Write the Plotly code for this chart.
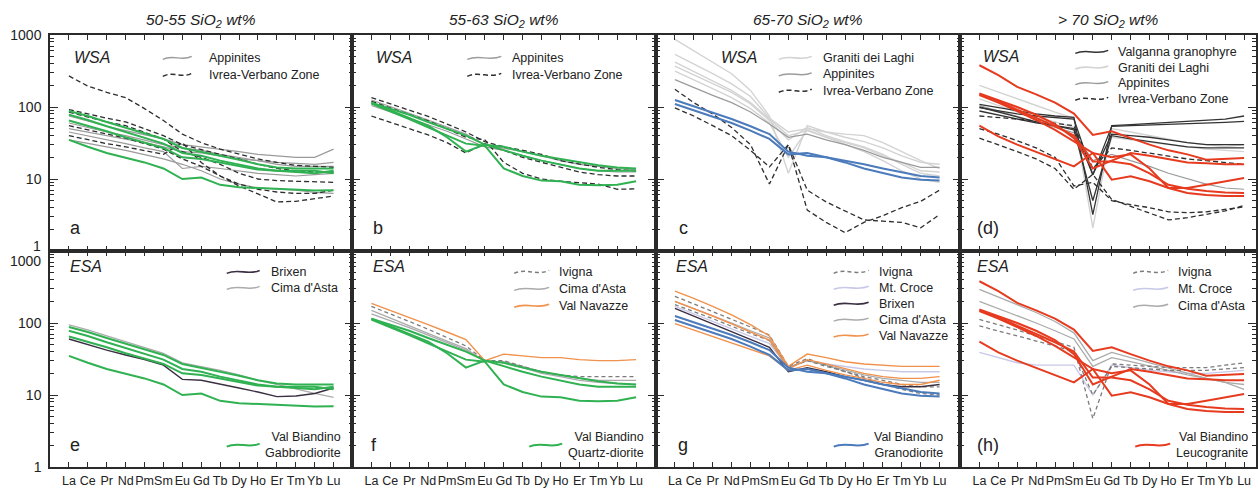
import plotly.graph_objects as go

# ---------------- data ----------------
ree = ["La", "Ce", "Pr", "Nd", "Pm", "Sm", "Eu", "Gd", "Tb", "Dy", "Ho", "Er", "Tm", "Yb", "Lu"]
col_titles = ["50-55 SiO<sub>2</sub> wt%", "55-63 SiO<sub>2</sub> wt%",
              "65-70 SiO<sub>2</sub> wt%", "> 70 SiO<sub>2</sub> wt%"]
panel_letters = ["a", "b", "c", "(d)", "e", "f", "g", "(h)"]

# Val Biandino samples (shown in both rows of each column)
vb_gabbrodiorite = [
    [35, 28, 23, 20, 17, 14, 10, 10.5, 8.3, 7.7, 7.5, 7.4, 7.1, 6.9, 7.0],
    [88, 75, 62, 52, 43, 36, 27, 24, 21, 18.5, 16, 14.5, 14, 14, 14],
    [78, 66, 54, 45, 37, 31, 23, 21, 18, 16, 14, 13, 12.5, 12, 13],
    [65, 55, 46, 38, 32, 27, 20, 19, 17, 15, 13.5, 13, 13, 13, 12],
]
vb_quartzdiorite = [
    [115, 95, 78, 62, 50, 40, 30, 28, 24, 21, 19, 17, 15.5, 14.5, 14],
    [112, 88, 68, 52, 40, 31, 29, 14, 11, 9.5, 9.3, 8.3, 8.2, 8.3, 9.3],
    [115, 90, 72, 55, 38, 24, 30, 25, 21, 18, 16, 14, 13, 13, 13],
]
vb_granodiorite = [
    [125, 102, 84, 68, 54, 42, 24, 21, 20, 18, 16, 14, 12.5, 11, 10.5],
    [110, 90, 74, 60, 47, 36, 22, 23, 20, 17, 14, 12, 10.5, 9.8, 9.5],
]
vb_leucogranite = [
    [380, 277, 190, 150, 115, 81, 41, 46, 37, 30, 25, 22, 18.5, 19, 19.5],
    [154, 125, 100, 78, 58, 37, 14, 18, 23, 21, 19, 17, 16.5, 16, 16],
    [146, 115, 88, 66, 48, 33, 23, 9.8, 10.9, 9.3, 7.5, 6.4, 6.0, 5.8, 5.8],
    [55, 39, 30, 24, 19, 15, 23, 20, 22, 14, 7.5, 7.5, 8.3, 9.2, 10.3],
    [150, 120, 92, 70, 54, 40, 17.5, 17.5, 16, 12, 8.3, 7.3, 6.8, 6.5, 6.4],
]

# panel a (WSA, 50-55)
a_appinites = [
    [75, 63, 54, 47, 41, 36, 30, 28, 26, 24, 22, 21, 20, 20, 26],
    [50, 45, 40, 36, 32, 28, 24, 23, 21, 19, 18, 17, 16.5, 16, 17],
    [45, 40, 35, 31, 27, 24, 14, 15, 14, 13, 12, 11.5, 11, 11.5, 12],
    [35, 31, 28, 25, 22, 19, 16, 13, 10, 8.5, 7.5, 7.3, 7.0, 6.5, 6.3],
    [60, 52, 45, 40, 35, 30, 27, 25, 22, 20, 18, 16, 15, 15, 15],
]
a_ivrea = [
    [270, 195, 160, 135, 95, 65, 42, 32, 26, 22, 19, 17, 15.5, 15, 14.5],
    [92, 80, 70, 62, 50, 40, 30, 26, 22, 19, 16, 14, 13, 12.5, 12.5],
    [40, 35, 31, 28, 25, 22, 32, 17, 11, 8.5, 7.2, 6.6, 6.3, 6.3, 7.0],
    [85, 72, 62, 55, 45, 36, 24, 20, 16, 12, 10, 9.5, 9.3, 9.2, 9.0],
    [55, 48, 42, 37, 31, 26, 19, 15, 11, 8, 6.2, 4.8, 4.9, 5.3, 5.8],
]
# panel b (WSA, 55-63)
b_appinites = [
    [125, 100, 82, 66, 52, 42, 30, 27, 24, 21, 18, 16, 15, 14, 13.5],
    [105, 85, 70, 57, 46, 36, 28, 25, 21, 18, 16, 14, 13, 12.5, 12.5],
]
b_ivrea = [
    [135, 110, 90, 74, 58, 45, 33, 28, 25, 22, 18, 16, 14.5, 13.5, 13],
    [75, 62, 50, 41, 32, 23, 31, 25, 20, 17, 14.5, 12.5, 11.5, 11, 11],
    [120, 98, 80, 64, 50, 38, 35, 17, 12, 10, 9.3, 8.8, 8.5, 7.2, 7.3],
]
# panel c (WSA, 65-70)
c_graniti = [
    [870, 600, 420, 290, 170, 75, 12, 55, 45, 38, 33, 27, 21, 17, 16],
    [540, 400, 290, 210, 140, 70, 45, 50, 45, 42, 40, 32, 24, 18, 14],
    [370, 280, 210, 160, 110, 65, 35, 52, 40, 33, 28, 22, 16, 12, 11],
    [315, 240, 180, 135, 95, 60, 20, 48, 38, 30, 24, 18, 13, 10, 9],
    [420, 310, 230, 170, 115, 68, 40, 47, 38, 32, 27, 21, 17, 13, 12.5],
]
c_appinites = [
    [240, 185, 145, 115, 85, 58, 38, 42, 35, 30, 25, 20, 17, 14.5, 14.5],
]
c_ivrea = [
    [176, 115, 80, 52, 30, 8.5, 30, 3.7, 2.5, 1.8, 2.5, 3.1, 4.0, 4.9, 7.0],
    [97, 75, 55, 40, 25, 14.7, 30, 7.0, 4.8, 3.6, 2.7, 2.6, 2.5, 2.1, 3.2],
]
# panel d (WSA, >70)
d_valganna = [
    [109, 98, 88, 80, 75, 72, 3.2, 55, 57, 59, 61, 63, 65, 68, 75],
    [98, 88, 80, 75, 72, 68, 11.5, 54, 55, 56, 57, 58, 59, 61, 63],
    [88, 78, 68, 60, 55, 50, 11.5, 42, 40, 38, 35, 32, 30, 30, 30],
    [100, 85, 72, 62, 55, 48, 5, 40, 36, 33, 30, 28, 27, 27, 27],
]
d_graniti = [
    [200, 160, 130, 105, 85, 70, 2.1, 50, 45, 40, 36, 32, 30, 28, 30],
    [130, 105, 85, 72, 62, 52, 5, 38, 35, 32, 30, 28, 26, 25, 24],
]
d_appinites = [
    [105, 88, 74, 62, 52, 44, 18, 22, 18, 15, 12, 10, 8.5, 7.5, 7.2],
]
d_ivrea = [
    [75, 72, 68, 64, 60, 55, 14, 27, 25, 23, 21, 19, 18, 17, 16],
    [37, 30, 24, 19, 14, 7.2, 11.6, 5.2, 4.2, 3.4, 2.7, 2.9, 3.2, 3.6, 4.3],
    [50, 42, 34, 27, 20, 8, 9, 5, 4.4, 4, 3.5, 3.4, 3.5, 3.8, 4.1],
]
# panel e (ESA, 50-55)
e_brixen = [[60, 50, 42, 36, 31, 26, 16.5, 16, 14, 12.5, 11, 9.5, 9.7, 10.5, 12.5]]
e_cima = [[94, 80, 66, 55, 46, 38, 28, 25, 22, 19, 16, 14, 12, 10.5, 9.3]]
# panel f (ESA, 55-63)
f_ivigna = [[170, 135, 105, 82, 63, 48, 30, 30, 25, 21, 19, 18, 18, 18, 18]]
f_cima = [
    [134, 108, 86, 68, 54, 42, 30, 28, 24, 20, 18, 16, 15, 14.5, 14],
    [150, 118, 92, 72, 56, 44, 29, 29, 25, 21, 19, 17, 16, 16, 16],
]
f_navazze = [[187, 150, 120, 95, 75, 59, 30, 37, 35, 33, 33, 31, 30, 30, 31]]
# panel g (ESA, 65-70)
g_ivigna = [
    [235, 185, 145, 112, 88, 68, 25, 32, 26, 21, 17, 14, 12, 10.5, 10],
    [180, 145, 115, 90, 72, 57, 24, 30, 25, 21, 18, 16, 14, 13, 13],
]
g_croce = [[170, 135, 105, 83, 65, 52, 24, 30, 27, 25, 23, 22, 21, 21, 21]]
g_brixen = [[160, 125, 98, 76, 60, 46, 21, 24, 21, 18, 16, 14, 13, 13, 14]]
g_cima = [[200, 160, 125, 100, 78, 62, 24, 30, 26, 22, 19, 17, 16, 15, 15]]
g_navazze = [
    [277, 220, 170, 130, 95, 66, 25, 37, 33, 29, 27, 26, 25, 25, 25],
    [98, 80, 65, 53, 43, 35, 22, 26, 22, 19, 17, 15, 14, 14, 16],
    [200, 160, 125, 97, 75, 58, 23, 31, 27, 23, 20, 18, 17, 17, 18],
]
# panel h (ESA, >70)
h_ivigna = [
    [112, 95, 80, 66, 55, 46, 4.7, 27, 26, 25, 24, 24, 24, 26, 28],
    [91, 78, 66, 56, 48, 40, 10, 25, 24, 23, 22, 22, 22, 23, 24],
]
h_croce = [[39, 33, 28, 26, 26, 26, 10, 26, 24, 22, 21, 20, 20, 21, 22]]
h_cima = [
    [294, 230, 180, 140, 105, 73, 30, 39, 33, 28, 24, 20, 17, 15, 12],
    [200, 160, 125, 100, 78, 60, 25, 33, 29, 25, 22, 19, 17, 15, 14],
]

# ---------------- styles ----------------
STY = {
    "appinites": dict(color="#9b9b9b", width=1.2, dash="solid"),
    "ivrea": dict(color="#2e2e2e", width=1.3, dash="5px,3px"),
    "graniti": dict(color="#d3d3d3", width=1.4, dash="solid"),
    "valganna": dict(color="#333333", width=1.3, dash="solid"),
    "brixen": dict(color="#3a3042", width=1.4, dash="solid"),
    "cima": dict(color="#ababab", width=1.3, dash="solid"),
    "ivigna": dict(color="#7c7c7c", width=1.3, dash="4px,3px"),
    "navazze": dict(color="#f0914c", width=1.4, dash="solid"),
    "croce": dict(color="#c8c8e8", width=1.4, dash="solid"),
    "green": dict(color="#30b152", width=2.0, dash="solid"),
    "blue": dict(color="#4c7bbb", width=2.0, dash="solid"),
    "red": dict(color="#e63b1f", width=2.0, dash="solid"),
}

panels = [
    [("appinites", a_appinites), ("ivrea", a_ivrea), ("green", vb_gabbrodiorite)],
    [("appinites", b_appinites), ("ivrea", b_ivrea), ("green", vb_quartzdiorite)],
    [("graniti", c_graniti), ("appinites", c_appinites), ("ivrea", c_ivrea), ("blue", vb_granodiorite)],
    [("graniti", d_graniti), ("appinites", d_appinites), ("valganna", d_valganna), ("ivrea", d_ivrea),
     ("red", vb_leucogranite)],
    [("cima", e_cima), ("brixen", e_brixen), ("green", vb_gabbrodiorite)],
    [("cima", f_cima), ("ivigna", f_ivigna), ("navazze", f_navazze), ("green", vb_quartzdiorite)],
    [("croce", g_croce), ("cima", g_cima), ("ivigna", g_ivigna), ("brixen", g_brixen), ("navazze", g_navazze),
     ("blue", vb_granodiorite)],
    [("croce", h_croce), ("cima", h_cima), ("ivigna", h_ivigna), ("red", vb_leucogranite)],
]

# legends: (label, style) per panel
legends = [
    [("Appinites", "appinites"), ("Ivrea-Verbano Zone", "ivrea")],
    [("Appinites", "appinites"), ("Ivrea-Verbano Zone", "ivrea")],
    [("Graniti dei Laghi", "graniti"), ("Appinites", "appinites"), ("Ivrea-Verbano Zone", "ivrea")],
    [("Valganna granophyre", "valganna"), ("Graniti dei Laghi", "graniti"), ("Appinites", "appinites"),
     ("Ivrea-Verbano Zone", "ivrea")],
    [("Brixen", "brixen"), ("Cima d'Asta", "cima")],
    [("Ivigna", "ivigna"), ("Cima d'Asta", "cima"), ("Val Navazze", "navazze")],
    [("Ivigna", "ivigna"), ("Mt. Croce", "croce"), ("Brixen", "brixen"), ("Cima d'Asta", "cima"),
     ("Val Navazze", "navazze")],
    [("Ivigna", "ivigna"), ("Mt. Croce", "croce"), ("Cima d'Asta", "cima")],
]
vb_legends = [None, None, None, None,
              ("Val Biandino<br>Gabbrodiorite", "green"),
              ("Val Biandino<br>Quartz-diorite", "green"),
              ("Val Biandino<br>Granodiorite", "blue"),
              ("Val Biandino<br>Leucogranite", "red")]

# ---------------- layout geometry (pixels) ----------------
W, H = 1258, 488
ML, MR, MT, MB = 50, 0, 35, 19
PW, PH = W - ML - MR, H - MT - MB
col_edges = [50, 353, 657, 962, 1258]
row_edges = [35, 252, 469]
FONT = "Liberation Sans, Arial, Helvetica, sans-serif"


def px(x):
    return (x - ML) / PW


def py(y):
    return (H - MB - y) / PH


fig = go.Figure()
layout = dict(width=W, height=H, margin=dict(l=ML, r=MR, t=MT, b=MB),
              plot_bgcolor="white", paper_bgcolor="white", showlegend=False,
              font=dict(family=FONT, color="#222"))
annotations = []
shapes = []

minor_vals = [m * 10 ** d for d in range(3) for m in range(2, 10)]

for i in range(8):
    r, c = divmod(i, 4)
    sfx = "" if i == 0 else str(i + 1)
    xd = [px(col_edges[c]), px(col_edges[c + 1])]
    yd = [py(row_edges[r + 1]), py(row_edges[r])]
    ppu = 303 / 16.0
    xr = [-1, -1 + (col_edges[c + 1] - col_edges[c]) / ppu]
    xa = dict(
        domain=xd, anchor="y" + sfx, type="category", range=xr,
        categoryorder="array", categoryarray=ree,
        showline=True, linecolor="#2a2a2a", linewidth=1.5, mirror="ticks",
        ticks="inside", ticklen=5, tickwidth=1.2, tickcolor="#2a2a2a",
        showgrid=False, zeroline=False, fixedrange=True, tickangle=0,
        showticklabels=(r == 1),
    )
    if r == 1:
        xa.update(tickfont=dict(size=12.5, family=FONT, color="#222"), ticklabelstandoff=1)
    layout["xaxis" + sfx] = xa
    ya = dict(
        domain=yd, anchor="x" + sfx, type="log", range=[0, 3],
        tickvals=[1, 10, 100, 1000], showticklabels=(c == 0),
        showline=True, linecolor="#2a2a2a", linewidth=1.5, mirror="ticks",
        ticks="inside", ticklen=8, tickwidth=1.2, tickcolor="#2a2a2a",
        minor=dict(ticks="inside", ticklen=4, tickwidth=1, tickcolor="#2a2a2a", tickvals=minor_vals),
        showgrid=False, zeroline=False, fixedrange=True,
    )
    if c == 0:
        if r == 0:
            tv, tt = [10, 100, 1000], ["10", "100", "1000"]
        else:
            tv, tt = [1, 10, 100], ["1", "10", "100"]
        ya.update(tickvals=tv, ticktext=tt, tickfont=dict(size=14, family=FONT, color="#222"),
                  ticklabelstandoff=4)
        # keep the extra major tick mark without a label
        ya["minor"]["tickvals"] = minor_vals + ([1] if r == 0 else [1000])
    layout["yaxis" + sfx] = ya
    for key, series in panels[i]:
        s = STY[key]
        for vals in series:
            fig.add_trace(go.Scatter(
                x=ree, y=vals, mode="lines", xaxis="x" + sfx, yaxis="y" + sfx,
                line=dict(color=s["color"], width=s["width"], dash=s["dash"]),
                hoverinfo="skip", showlegend=False))

# extra y labels at the row boundary
annotations.append(dict(x=px(43), y=py(247), xref="paper", yref="paper", text="1", showarrow=False,
                        xanchor="right", yanchor="middle", font=dict(size=14, family=FONT, color="#222")))
annotations.append(dict(x=px(43), y=py(262), xref="paper", yref="paper", text="1000", showarrow=False,
                        xanchor="right", yanchor="middle", font=dict(size=14, family=FONT, color="#222")))

# column titles
for c in range(4):
    cx = (col_edges[c] + col_edges[c + 1]) / 2
    annotations.append(dict(x=px(cx), y=py(20), xref="paper", yref="paper",
                            text="<i>" + col_titles[c] + "</i>", showarrow=False,
                            xanchor="center", yanchor="middle", font=dict(size=15.5, family=FONT, color="#222")))

# WSA / ESA and panel letters
group_pos = [(72, 58), (375, 58), (720, 58), (983, 57), (68, 268), (372, 268), (675, 268), (977, 268)]
letter_pos = [(68, 229), (372, 229), (678, 229), (977, 229), (68, 447), (370, 447), (677, 447), (977, 447)]
for i in range(8):
    gx, gy = group_pos[i]
    annotations.append(dict(x=px(gx), y=py(gy), xref="paper", yref="paper",
                            text="<i>" + ("WSA" if i < 4 else "ESA") + "</i>", showarrow=False,
                            xanchor="left", yanchor="middle", font=dict(size=16, family=FONT, color="#222")))
    lx, ly = letter_pos[i]
    annotations.append(dict(x=px(lx), y=py(ly), xref="paper", yref="paper", text=panel_letters[i],
                            showarrow=False, xanchor="left", yanchor="middle",
                            font=dict(size=18, family=FONT, color="#222")))


def wave(x0, x1, y):
    w = x1 - x0
    pts = [(x0, y + 1.5), (x0 + w * 0.35, y - 4), (x0 + w * 0.65, y + 4), (x1, y - 1.5)]
    p = ["%.5f,%.5f" % (px(a), py(b)) for a, b in pts]
    return "M %s C %s %s %s" % (p[0], p[1], p[2], p[3])


# legend geometry: (sample x0, sample x1, text x, first row y, row step)
leg_geo = [(163, 192, 207, 58, 17), (468, 502, 511, 58, 17), (780, 813, 822, 58, 16.5),
           (1077, 1110, 1118, 52, 15.7), (227, 260, 269, 273, 16), (515, 550, 558, 273, 17),
           (835, 870, 878, 273, 16), (1135, 1170, 1178, 273, 17)]
vb_geo = [None, None, None, None, (227, 260, 343, 447), (530, 563, 647, 447),
          (835, 870, 946, 447), (1137, 1172, 1252, 447)]

for i in range(8):
    x0, x1, tx, y0, dy = leg_geo[i]
    for k, (lab, key) in enumerate(legends[i]):
        yy = y0 + k * dy
        s = STY[key]
        shapes.append(dict(type="path", xref="paper", yref="paper", path=wave(x0, x1, yy),
                           line=dict(color=s["color"], width=s["width"] + 0.2, dash=s["dash"])))
        annotations.append(dict(x=px(tx), y=py(yy), xref="paper", yref="paper", text=lab,
                                showarrow=False, xanchor="left", yanchor="middle",
                                font=dict(size=12.5, family=FONT, color="#222")))
    if vb_legends[i]:
        lab, key = vb_legends[i]
        sx0, sx1, trx, vy = vb_geo[i]
        s = STY[key]
        shapes.append(dict(type="path", xref="paper", yref="paper", path=wave(sx0, sx1, vy),
                           line=dict(color=s["color"], width=s["width"], dash=s["dash"])))
        annotations.append(dict(x=px(trx), y=py(vy), xref="paper", yref="paper", text=lab,
                                showarrow=False, xanchor="right", yanchor="middle", align="right",
                                font=dict(size=12.5, family=FONT, color="#222")))

layout["annotations"] = annotations
layout["shapes"] = shapes
fig.update_layout(**layout)
fig.write_html("out.html", config={"displayModeBar": False},
               post_script="document.body.style.margin='0px';document.body.style.overflow='hidden';")
